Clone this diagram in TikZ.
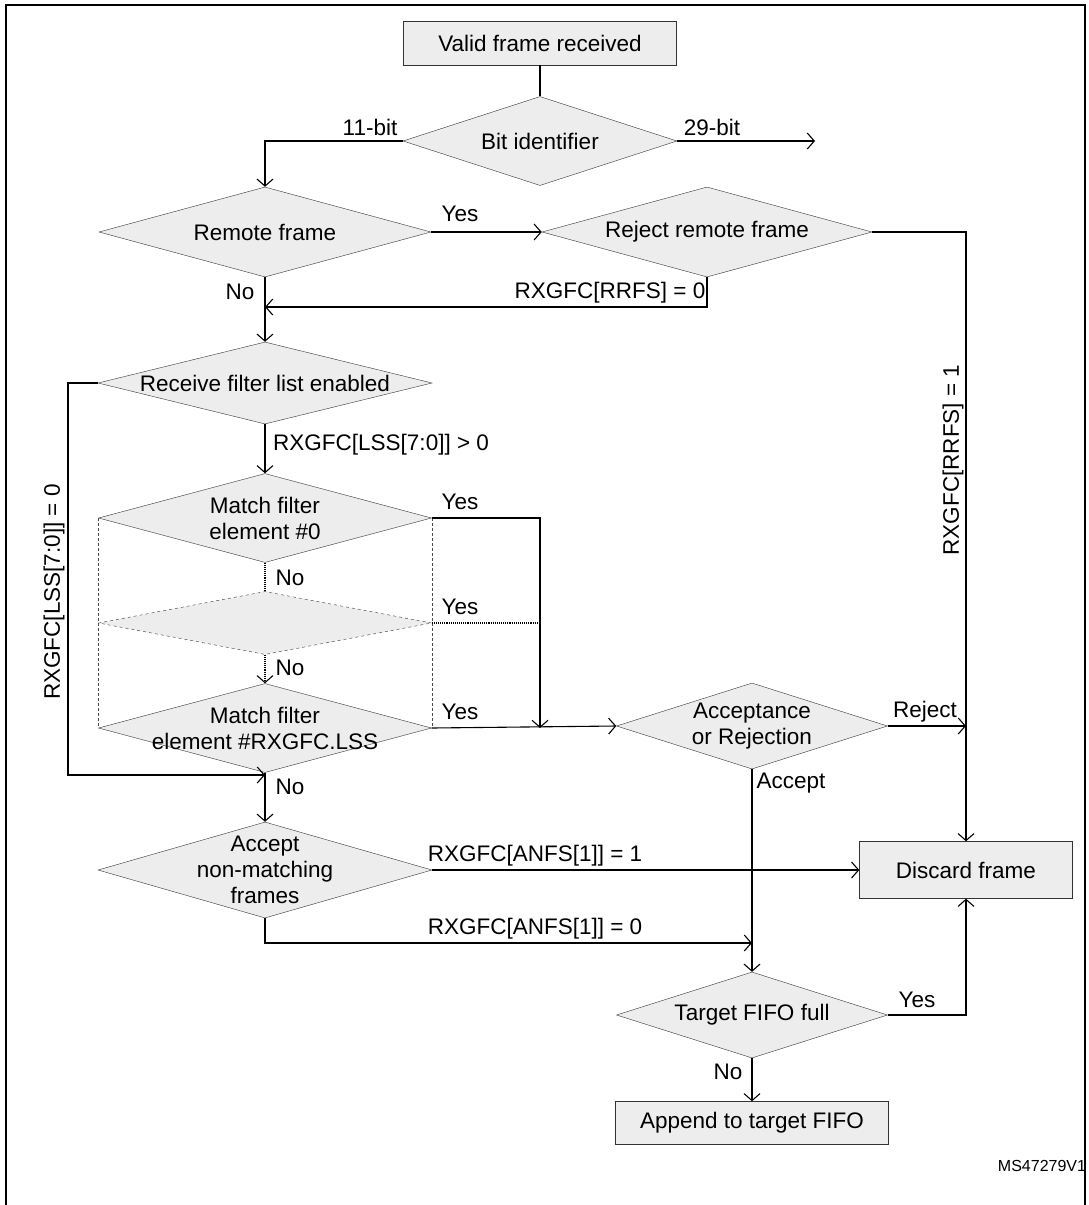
\documentclass[tikz,border=0pt]{standalone}
\usepackage{fontspec}
\setmainfont{Liberation Sans}
\usetikzlibrary{shapes.geometric,arrows.meta}

\tikzset{
  box/.style={draw=black!80,fill=black!7,minimum width=#1,minimum height=44pt,inner sep=0pt},
  dec/.code 2 args={\pgfmathsetmacro\decasp{#1/#2}%
    \edef\decopts{diamond,draw=black!80,fill=black!7,inner sep=0pt,
      minimum width=#1pt,minimum height=#2pt,shape aspect=\decasp}%
    \expandafter\pgfkeysalso\expandafter{\decopts}},
  txt/.style={label={[align=center,inner sep=0pt]center:#1}},
  flow/.style={line width=1.1pt,-{Straight Barb[length=7pt,width=16pt]}},
  link/.style={line width=1.1pt},
  lbl/.style={inner sep=1pt}
}

\begin{document}
\begin{tikzpicture}[x=1pt,y=-1pt,font=\fontsize{22.5}{26}\selectfont]
\useasboundingbox (0,0) rectangle (1089,1205);
\draw[line width=1.2pt] (6,5) rectangle (1085,1215);
% nodes
\node[box=273pt] (valid) at (540,43) {Valid frame received};
\node[dec={274}{89},txt={Bit identifier}] (bit) at (540,141) {};
\node[dec={332}{90},txt={Remote frame}] (remote) at (265,232) {};
\node[dec={330}{90},txt={Reject remote frame}] (reject) at (707,232) {};
\node[dec={334}{82},txt={Receive filter list enabled}] (recv) at (265,383) {};
\node[dec={333}{89},txt={Match filter\\element \#0}] (m0) at (265,518) {};
\node[dec={333}{63},dashed] (mdash) at (265,623) {};
\node[dec={333}{89},txt={Match filter\\element \#RXGFC.LSS}] (mlss) at (265,728) {};
\node[dec={271}{86},txt={Acceptance\\or Rejection}] (accrej) at (752,726) {};
\node[dec={334}{96},txt={Accept\\non-matching\\frames}] (anm) at (265,870) {};
\node[box=213pt,minimum height=57pt] (discard) at (966,870) {Discard frame};
\node[dec={271}{86},txt={Target FIFO full}] (fifo) at (752,1015) {};
\node[box=273pt,minimum height=43pt] (append) at (752,1123) {Append to target FIFO};
\coordinate (out29) at (815,141);
\coordinate (j1) at (265,307);
\coordinate (j2) at (265,775);
\coordinate (bus) at (540,518);
\coordinate (rej) at (966,726);
\coordinate (j3) at (752,943);
% connectors
\draw[link] (valid) -- (bit);
\draw[flow] (bit.west) -| (remote.north);
\draw[flow] (bit.east) -- (out29);
\draw[flow] (remote.east) -- (reject.west);
\draw[flow] (reject.east) -| (discard.north);
\draw[flow] (reject.south) |- (j1);
\draw[flow] (remote.south) -- (recv.north);
\draw[flow] (recv.west) -| (68,500) |- (j2);
\draw[flow] (recv.south) -- (m0.north);
\draw[link,densely dotted] (m0.south) -- (mdash.north);
\draw[flow,densely dotted] (mdash.south) -- (mlss.north);
\draw[densely dashed,draw=black!70] (m0.west) -- (mlss.west) (m0.east) -- (mlss.east);
\draw[flow] (m0.east) -- (bus) -- (bus |- mlss.east);
\draw[link,densely dotted] (mdash.east) -- (bus |- mdash.east);
\draw[flow] (mlss.east) -- (accrej.west);
\draw[flow] (accrej.east) -- (rej);
\draw[flow] (mlss.south) -- (anm.north);
\draw[flow] (accrej.south) -- (fifo.north);
\draw[flow] (anm.east) -- (discard.west);
\draw[flow] (anm.south) |- (j3);
\draw[flow] (fifo.east) -| (discard.south);
\draw[flow] (fifo.south) -- (append.north);
% labels
\node[lbl] at (370,127) {11-bit};
\node[lbl] at (712,127) {29-bit};
\node[lbl] at (460,214) {Yes};
\node[lbl] at (610,293) {RXGFC[RRFS] = 0};
\node[lbl] at (240,292) {No};
\node[lbl,rotate=90] at (953,460) {RXGFC[RRFS] = 1};
\node[lbl,anchor=west] at (272,445) {RXGFC[LSS[7:0]] > 0};
\node[lbl,rotate=90] at (54,592) {RXGFC[LSS[7:0]] = 0};
\node[lbl] at (460,502) {Yes};
\node[lbl] at (460,607) {Yes};
\node[lbl] at (460,712) {Yes};
\node[lbl] at (290,578) {No};
\node[lbl] at (290,668) {No};
\node[lbl] at (290,787) {No};
\node[lbl] at (925,712) {Reject};
\node[lbl] at (791,783) {Accept};
\node[lbl] at (535,856) {RXGFC[ANFS[1]] = 1};
\node[lbl] at (535,929) {RXGFC[ANFS[1]] = 0};
\node[lbl] at (917,1000) {Yes};
\node[lbl] at (728,1072) {No};
\node[lbl,font=\fontsize{16}{18}\selectfont] at (1042,1166) {MS47279V1};
\end{tikzpicture}
\end{document}
